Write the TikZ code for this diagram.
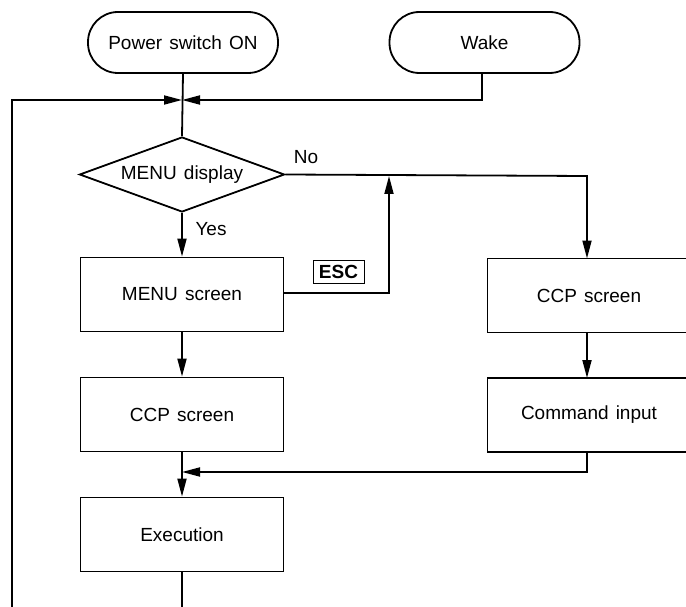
\documentclass[tikz,border=0pt]{standalone}
\usepackage{fontspec}
\setmainfont{Liberation Sans}[WordSpace={1.35}]
\usetikzlibrary{arrows.meta,shapes.geometric}
\begin{document}
\begin{tikzpicture}[x=1pt,y=-1pt,
  line width=1.8pt,
  every node/.style={font=\fontsize{19}{23}\selectfont},
  arr/.style={-{Triangle[length=18pt,width=9pt]}},
  pill/.style={draw,rectangle,rounded corners=30pt,minimum width=190pt,minimum height=61pt,inner sep=0pt},
  procbox/.style={draw,rectangle,minimum width=203pt,minimum height=74pt,inner sep=0pt},
  decbox/.style={draw,diamond,minimum width=205pt,minimum height=75pt,inner sep=0pt,aspect=2.73},
  lbl/.style={inner sep=0pt}]
\useasboundingbox (0,0) rectangle (686,607);
\clip (0,0) rectangle (686,607);
% nodes
\node[pill] (power) at (183,42.5) {Power switch ON};
\node[pill] (wake) at (484.5,42.5) {Wake};
\node[decbox] (menud) at (182,174.5) {MENU display};
\node[procbox] (menus) at (182,294.5) {MENU screen};
\node[procbox] (ccpl) at (182,414.5) {CCP screen};
\node[procbox] (exe) at (182,534.5) {Execution};
\node[procbox] (ccpr) at (589,295.5) {CCP screen};
\node[procbox] (cmd) at (589,415) {Command input};
\node[draw,line width=1pt,minimum width=51pt,minimum height=23pt,inner sep=0pt,font=\fontsize{19}{23}\selectfont\bfseries] (esc) at (338.5,271.5) {ESC};
\node[lbl] (no) at (306,157) {No};
\node[lbl] (yes) at (211,229) {Yes};
% coordinates
\coordinate (jn) at (182,100);
\coordinate (jx) at (182,472);
\coordinate (ju) at (389,176);
\coordinate (loopb) at (12,660);
\coordinate (wk1) at (482,73);
\coordinate (wk2) at (482,100);
\coordinate (no1) at (587,176);
\coordinate (no2) at (587,258.5);
\coordinate (es1) at (283.5,293);
\coordinate (es2) at (389,293);
\coordinate (r1) at (587,332.5);
\coordinate (r2) at (587,378);
\coordinate (r3) at (587,452);
\coordinate (r4) at (587,472);
\coordinate (exb) at (182,660);
% connectors
\draw (power.south) -- (menud.north);
\draw[arr] (exe.south) -- (exb) -- (loopb) |- (jn);
\draw[arr] (wk1) -- (wk2) -- (jn);
\draw[arr] (menud.south) -- (menus.north);
\draw[arr] (menud.east) -- (no1) -- (no2);
\draw[arr] (es1) -- (es2) -- (ju);
\draw[arr] (menus.south) -- (ccpl.north);
\draw[arr] (ccpl.south) -- (exe.north);
\draw[arr] (r1) -- (r2);
\draw[arr] (r3) -- (r4) -- (jx);
\end{tikzpicture}
\end{document}
